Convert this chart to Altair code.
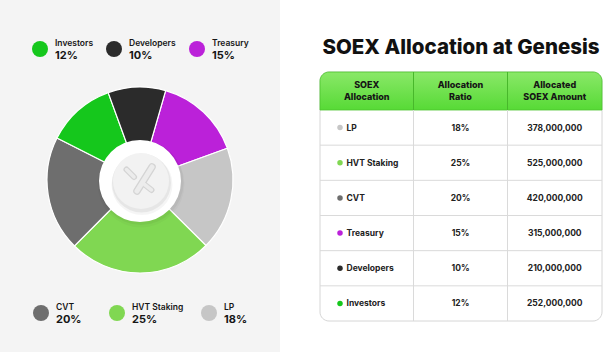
import math
import altair as alt
import pandas as pd

# ---------------- data ----------------
categories = ["Investors", "Developers", "Treasury", "CVT", "HVT Staking", "LP"]
shares = [12, 10, 15, 20, 25, 18]
amounts = [252000000, 210000000, 315000000, 420000000, 525000000, 378000000]
colors = ["#15c71c", "#2b2b2b", "#bb21d9", "#6e6e6e", "#80d752", "#c6c6c6"]
pie_order = ["Treasury", "LP", "HVT Staking", "CVT", "Investors", "Developers"]
table_order = ["LP", "HVT Staking", "CVT", "Treasury", "Developers", "Investors"]
legend_rows = [["Investors", "Developers", "Treasury"], ["CVT", "HVT Staking", "LP"]]
title_text = "SOEX Allocation at Genesis"
header_lines = [["SOEX", "Allocation"], ["Allocation", "Ratio"], ["Allocated", "SOEX Amount"]]

# ---------------- layout ----------------
W, H = 616, 352
PANEL_W = 280
CX, CY, R = 140, 180, 93
START_DEG = 16
LEG_Y = [49, 313]
LEG_X = [[40, 114, 197], [41, 117, 209]]
LEG_DX = 15
TL, TR, TT, THB, TB = 320, 602, 72, 110, 321
COLS = [320, 413.5, 507.5, 602]
FONT = "Inter"
INK = "#161616"

share_of = dict(zip(categories, shares))
amount_of = dict(zip(categories, amounts))
color_scale = alt.Scale(domain=categories, range=colors)
xs = alt.Scale(domain=[0, W], nice=False, zero=False)
ys = alt.Scale(domain=[0, H], nice=False, zero=False, reverse=True)


def X(f):
    return alt.X(f"{f}:Q", scale=xs, axis=None)


def Y(f):
    return alt.Y(f"{f}:Q", scale=ys, axis=None)


# background panel
panel_df = pd.DataFrame({"x": [0], "x2": [PANEL_W], "y": [0], "y2": [H]})
panel = alt.Chart(panel_df).mark_rect(color="#f4f4f4").encode(
    x=X("x"), x2="x2", y=Y("y"), y2="y2")

# pie
pie_df = pd.DataFrame({
    "cat": pie_order,
    "share": [share_of[c] for c in pie_order],
    "ord": list(range(len(pie_order))),
})
a0 = math.radians(START_DEG)
pie = alt.Chart(pie_df).mark_arc(outerRadius=R, stroke="white", strokeWidth=1.2).encode(
    theta=alt.Theta("share:Q", stack=True, scale=alt.Scale(range=[a0, a0 + 2 * math.pi])),
    order=alt.Order("ord:Q"),
    color=alt.Color("cat:N", scale=color_scale, legend=None),
    x=alt.value(CX), y=alt.value(CY),
)

# centre disc + button (with soft shadows)
disc_df = pd.DataFrame({
    "x": [CX + 1, CX + 1, CX, CX + 2, CX + 1.5, CX + 1],
    "y": [CY + 4, CY + 2.5, CY + 1, CY + 4.5, CY + 3, CY + 1],
    "d": [87, 85, 82, 61, 59, 56],
    "fill": ["#000000", "#000000", "#ffffff", "#000000", "#000000", "#f2f2f2"],
    "op": [0.025, 0.04, 1, 0.04, 0.06, 1],
    "k": list(range(6)),
})
disc_df["size"] = disc_df["d"] ** 2
discs = alt.Chart(disc_df).mark_circle(strokeWidth=0).encode(
    x=X("x"), y=Y("y"),
    size=alt.Size("size:Q", scale=None, legend=None),
    color=alt.Color("fill:N", scale=None, legend=None),
    opacity=alt.Opacity("op:Q", scale=None, legend=None),
    order=alt.Order("k:Q"),
)

# logo strokes
logo_df = pd.DataFrame({
    "x": [152, 126.5, 144.5], "y": [167, 169.5, 184.5],
    "x2": [137, 134, 151.5], "y2": [191, 177, 190],
    "w": [7.5, 6, 6], "wi": [5, 3.5, 3.5],
})
logo_outer = alt.Chart(logo_df).mark_rule(color="#d4d4d4", strokeCap="round").encode(
    x=X("x"), y=Y("y"), x2="x2", y2="y2",
    strokeWidth=alt.StrokeWidth("w:Q", scale=None, legend=None))
logo_inner = alt.Chart(logo_df).mark_rule(color="#ececec", strokeCap="round").encode(
    x=X("x"), y=Y("y"), x2="x2", y2="y2",
    strokeWidth=alt.StrokeWidth("wi:Q", scale=None, legend=None))

# legend
leg_recs = []
for r, row in enumerate(legend_rows):
    for c, cat in enumerate(row):
        leg_recs.append({
            "cat": cat, "x": LEG_X[r][c], "y": LEG_Y[r],
            "tx": LEG_X[r][c] + LEG_DX, "ty1": LEG_Y[r] - 6, "ty2": LEG_Y[r] + 6.5,
            "pct": f"{share_of[cat]}%",
        })
leg_df = pd.DataFrame(leg_recs)
leg_dots = alt.Chart(leg_df).mark_circle(size=256, opacity=1).encode(
    x=X("x"), y=Y("y"), color=alt.Color("cat:N", scale=color_scale, legend=None))
leg_names = alt.Chart(leg_df).mark_text(
    align="left", baseline="middle", font=FONT, fontSize=8.5, fontWeight=600, color=INK
).encode(x=X("tx"), y=Y("ty1"), text="cat:N")
leg_pcts = alt.Chart(leg_df).mark_text(
    align="left", baseline="middle", font=FONT, fontSize=11, fontWeight=700, color=INK
).encode(x=X("tx"), y=Y("ty2"), text="pct:N")

# title
title_df = pd.DataFrame({"x": [(TL + TR) / 2], "y": [48], "t": [title_text]})
title = alt.Chart(title_df).mark_text(
    align="center", baseline="middle", font=FONT, fontSize=20.5, fontWeight=800, color="#111111"
).encode(x=X("x"), y=Y("y"), text="t:N")

# table frame
frame_df = pd.DataFrame({"x": [TL], "x2": [TR], "y": [TT], "y2": [TB]})
frame = alt.Chart(frame_df).mark_rect(
    fill="white", stroke="#d6d6d6", strokeWidth=1, cornerRadius=9
).encode(x=X("x"), x2="x2", y=Y("y"), y2="y2")

head_df = pd.DataFrame({"x": [TL], "x2": [TR], "y": [TT], "y2": [THB]})
header = alt.Chart(head_df).mark_rect(
    color=alt.Gradient(
        gradient="linear", x1=0, x2=0, y1=0, y2=1,
        stops=[alt.GradientStop(color="#8ae868", offset=0),
               alt.GradientStop(color="#57da36", offset=1)]),
    stroke="#4cc42d", strokeWidth=0.8,
    cornerRadiusTopLeft=9, cornerRadiusTopRight=9,
).encode(x=X("x"), x2="x2", y=Y("y"), y2="y2")

n = len(table_order)
rh = (TB - THB) / n
hl = pd.DataFrame({"x": [TL] * (n - 1), "x2": [TR] * (n - 1),
                   "y": [THB + rh * (i + 1) for i in range(n - 1)]})
hlines = alt.Chart(hl).mark_rule(color="#dadada", strokeWidth=1).encode(
    x=X("x"), x2="x2", y=Y("y"))
vl = pd.DataFrame({"x": COLS[1:3], "y": [THB, THB], "y2": [TB, TB]})
vlines = alt.Chart(vl).mark_rule(color="#dadada", strokeWidth=1).encode(
    x=X("x"), y=Y("y"), y2="y2")
vlh = pd.DataFrame({"x": COLS[1:3], "y": [TT, TT], "y2": [THB, THB]})
vlines_head = alt.Chart(vlh).mark_rule(color="#48b82b", strokeWidth=1).encode(
    x=X("x"), y=Y("y"), y2="y2")

# header text
hrecs = []
for c, lines in enumerate(header_lines):
    cx = (COLS[c] + COLS[c + 1]) / 2
    for i, ln in enumerate(lines):
        hrecs.append({"x": cx, "y": (TT + THB) / 2 - 6 + 12 * i, "t": ln})
htext = alt.Chart(pd.DataFrame(hrecs)).mark_text(
    align="center", baseline="middle", font=FONT, fontSize=9, fontWeight=800, color="#161616"
).encode(x=X("x"), y=Y("y"), text="t:N")

# rows
rrecs = []
for i, cat in enumerate(table_order):
    rrecs.append({
        "cat": cat, "y": THB + rh * (i + 0.5),
        "dx": 340, "tx": 346.5,
        "rx": (COLS[1] + COLS[2]) / 2, "ax": (COLS[2] + COLS[3]) / 2,
        "ratio": f"{share_of[cat]}%", "amount": f"{amount_of[cat]:,}",
    })
row_df = pd.DataFrame(rrecs)
row_dots = alt.Chart(row_df).mark_circle(size=30, opacity=1).encode(
    x=X("dx"), y=Y("y"), color=alt.Color("cat:N", scale=color_scale, legend=None))
row_names = alt.Chart(row_df).mark_text(
    align="left", baseline="middle", font=FONT, fontSize=8.5, fontWeight=700, color="#222222"
).encode(x=X("tx"), y=Y("y"), text="cat:N")
row_ratio = alt.Chart(row_df).mark_text(
    align="center", baseline="middle", font=FONT, fontSize=8.5, fontWeight=700, color="#222222"
).encode(x=X("rx"), y=Y("y"), text="ratio:N")
row_amount = alt.Chart(row_df).mark_text(
    align="center", baseline="middle", font=FONT, fontSize=8.5, fontWeight=700, color="#222222"
).encode(x=X("ax"), y=Y("y"), text="amount:N")

chart = alt.layer(
    panel, pie, discs, logo_outer, logo_inner,
    leg_dots, leg_names, leg_pcts,
    title, frame, header, hlines, vlines, vlines_head, htext,
    row_dots, row_names, row_ratio, row_amount,
).properties(
    width=W, height=H, padding=0, autosize="none", background="white"
).configure_view(stroke=None)

chart.save("out.html", embed_options={"renderer": "svg", "actions": False})
